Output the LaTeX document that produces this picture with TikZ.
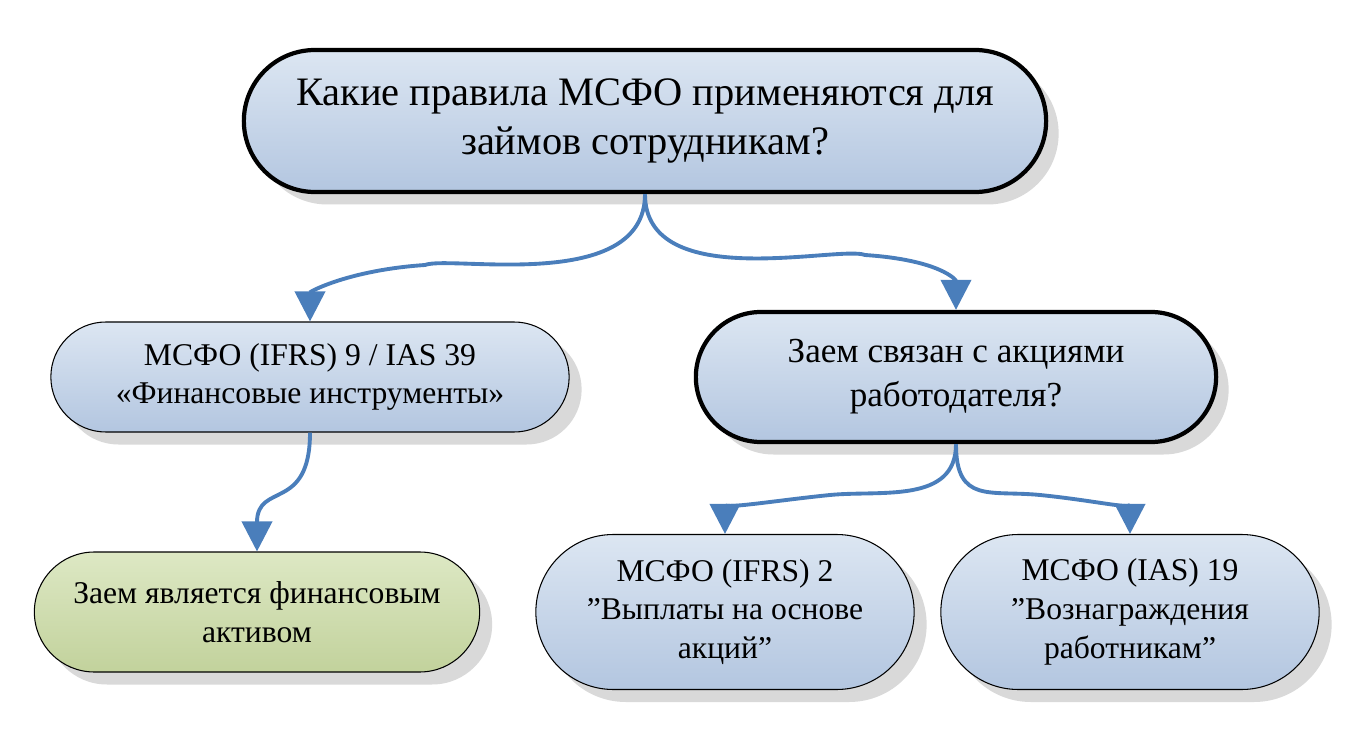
\documentclass[tikz,border=0pt]{standalone}
\usepackage{fontspec}
\setmainfont{Liberation Serif}
\usetikzlibrary{shapes.misc,shadows,arrows.meta}
\definecolor{boxtop}{HTML}{DCE6F2}
\definecolor{boxbot}{HTML}{B3C6E0}
\definecolor{greentop}{HTML}{DDE8C4}
\definecolor{greenbot}{HTML}{C2D29C}
\definecolor{arrowblue}{HTML}{4A7EBB}
\tikzset{
  qbox/.style={rounded rectangle, draw=black, align=center,
    top color=boxtop, bottom color=boxbot,
    drop shadow={shadow xshift=0.25cm, shadow yshift=-0.25cm, fill=black!25, opacity=0.6}},
  qthick/.style={qbox, line width=2.4pt},
  qthin/.style={qbox, line width=0.6pt},
  qgreen/.style={qthin, top color=greentop, bottom color=greenbot},
  flow/.style={draw=arrowblue, line width=2.2pt, -{Triangle[length=0.6cm,width=0.6cm]}}
}
\begin{document}
\begin{tikzpicture}
\useasboundingbox (0,0) rectangle (27.32,-14.84);

\node[qthick, minimum width=16.28cm, minimum height=2.84cm, font=\fontsize{23}{28}\selectfont]
  (q1) at (12.9,-2.42) {Какие правила МСФО применяются для\\займов сотрудникам?};
\node[qthin, minimum width=10.6cm, minimum height=2.2cm, font=\fontsize{18}{22}\selectfont]
  (ifrs9) at (6.2,-7.54) {МСФО (IFRS) 9 / IAS 39\\«Финансовые инструменты»};
\node[qthick, minimum width=10.64cm, minimum height=2.6cm, font=\fontsize{20}{25}\selectfont]
  (q2) at (19.12,-7.54) {Заем связан с акциями\\работодателя?};
\node[qgreen, minimum width=9.14cm, minimum height=2.4cm, font=\fontsize{18}{22}\selectfont]
  (asset) at (5.14,-12.24) {Заем является финансовым\\активом};
\node[qthin, minimum width=7.8cm, minimum height=3.1cm, font=\fontsize{18}{22}\selectfont]
  (ifrs2) at (14.5,-12.24) {МСФО (IFRS) 2\\"Выплаты на основе\\акций"};
\node[qthin, minimum width=7.8cm, minimum height=3.1cm, font=\fontsize{18}{22}\selectfont]
  (ias19) at (22.6,-12.24) {МСФО (IAS) 19\\"Вознаграждения\\работникам"};

\draw[flow] (q1.south) .. controls +(0,-2) and +(0.5,0.2) .. (8.5,-5.3) .. controls +(-1.5,-0.1) and +(0,0.6) .. (ifrs9.north);
\draw[flow] (q1.south) .. controls +(0,-2) and +(-0.5,0.2) .. (17.3,-5.1) .. controls +(1.5,-0.1) and +(0,0.6) .. (q2.north);
\draw[flow] (ifrs9.south) .. controls +(0,-1.6) and +(0,1.4) .. (asset.north);
\draw[flow] (q2.south) .. controls +(0,-1.2) and +(1,0.1) .. (16.6,-9.9) .. controls +(-1,-0.1) and +(0,0.5) .. (ifrs2.north);
\draw[flow] (q2.south) .. controls +(0,-1.2) and +(-1,0.1) .. (20.8,-9.9) .. controls +(1,-0.1) and +(0,0.5) .. (ias19.north);
\end{tikzpicture}
\end{document}
